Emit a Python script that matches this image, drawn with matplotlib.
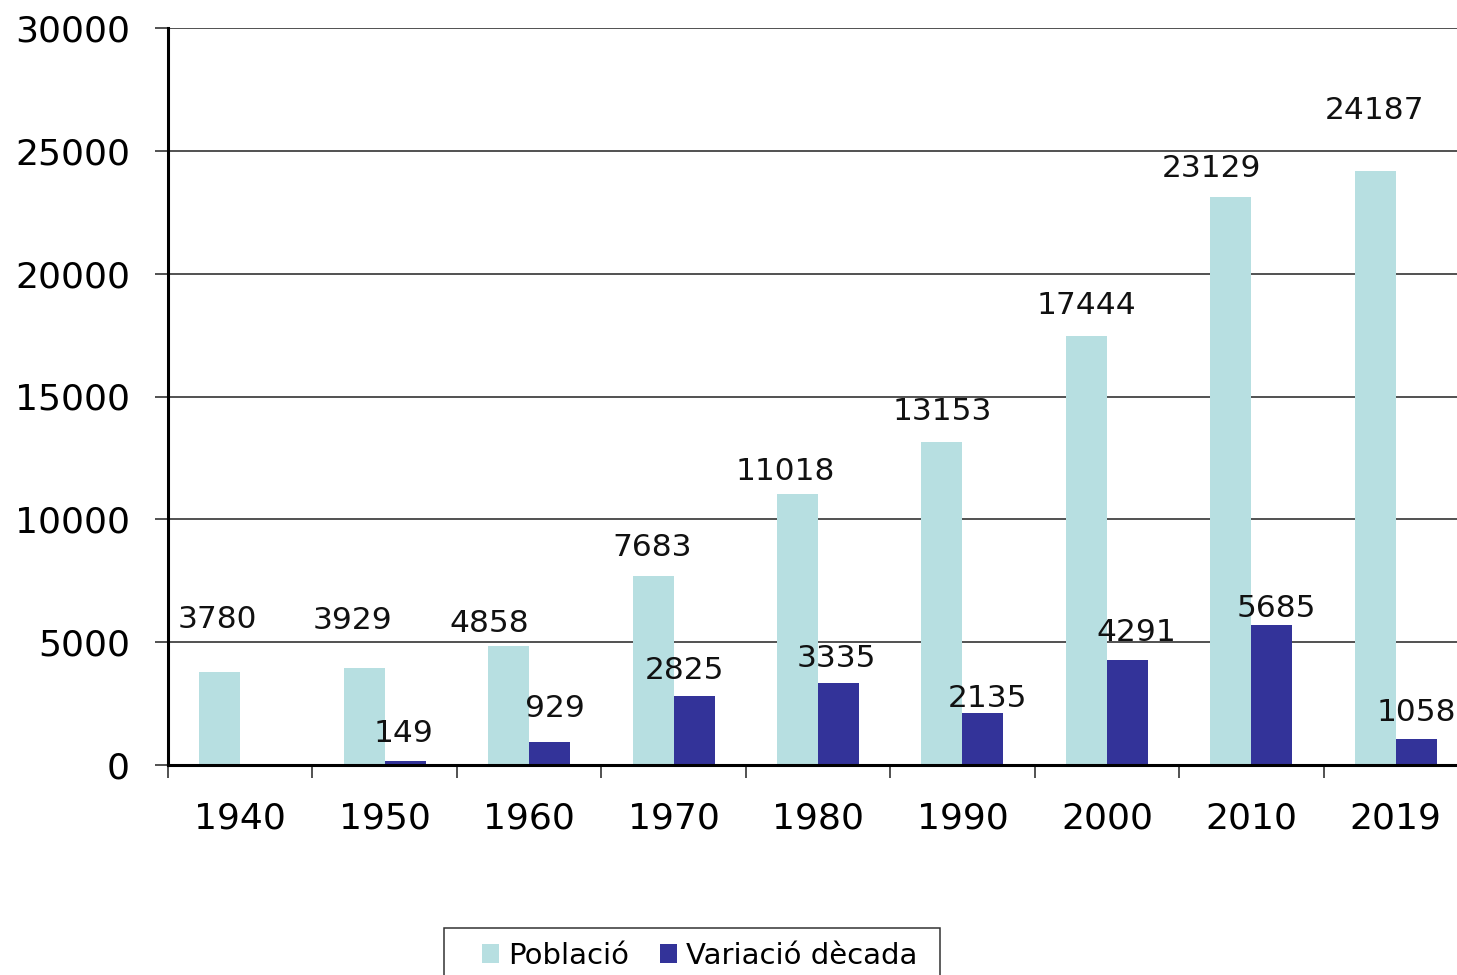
import numpy as np
import matplotlib as mpl
mpl.use("Agg")
import matplotlib.pyplot as plt
from matplotlib.patches import Rectangle

# --- data ------------------------------------------------------------------
years = ["1940", "1950", "1960", "1970", "1980", "1990", "2000", "2010", "2019"]
poblacio = [3780, 3929, 4858, 7683, 11018, 13153, 17444, 23129, 24187]
variacio = [0, 149, 929, 2825, 3335, 2135, 4291, 5685, 1058]
show_var = [False, True, True, True, True, True, True, True, True]

# label nudges (pixels) to mimic the spreadsheet's label placement
pob_dx = [-2, -12, -19, -1, -12, 0, 0, -19, -1]
pob_dy = [53, 48, 22, 29, 23, 30, 31, 28, 60]
var_dx = [0, -2, 5, -10, -2, 5, 9, 4, 0]
var_dy = [28, 28, 34, 25, 25, 14, 27, 17, 27]

LIGHT = "#B7DFE1"
DARK = "#333399"
LINE = "#222222"

mpl.rcParams.update({"font.family": "DejaVu Sans"})
fig = plt.figure(figsize=(14.57, 9.75), dpi=100)
ax = fig.add_axes([168 / 1457, 1 - 765 / 975, 1300 / 1457, 737 / 975])

x = np.arange(len(years))
w = 0.284
ax.bar(x - w / 2, poblacio, w, color=LIGHT, label="Població", zorder=3)
ax.bar(x + w / 2, variacio, w, color=DARK, label="Variació dècada", zorder=3)

px = 1 / 100 * 72  # points per pixel
for i in range(len(years)):
    ax.annotate(str(poblacio[i]), (x[i] - w / 2, poblacio[i]),
                xytext=(pob_dx[i] * px, pob_dy[i] * px), textcoords="offset points",
                ha="center", va="center", fontsize=22.5, color="#111111")
    if show_var[i]:
        ax.annotate(str(variacio[i]), (x[i] + w / 2, variacio[i]),
                    xytext=(var_dx[i] * px, var_dy[i] * px), textcoords="offset points",
                    ha="center", va="center", fontsize=22.5, color="#111111")

ax.set_xlim(-0.5, len(years) - 0.5)
ax.set_ylim(0, 30000)
ax.set_yticks(np.arange(0, 30001, 5000))
ax.set_xticks(x)
ax.set_xticklabels(years)
ax.set_xticks(np.arange(-0.5, len(years) - 0.4, 1), minor=True)

ax.tick_params(axis="y", labelsize=26, length=9.4, width=1.1, pad=18, color=LINE)
ax.tick_params(axis="x", which="major", labelsize=26, length=0, pad=26)
ax.tick_params(axis="x", which="minor", length=9, width=1.1, color=LINE)

ax.yaxis.grid(True, color=LINE, linewidth=1.1, zorder=0)
ax.set_axisbelow(True)
for s in ("top", "right"):
    ax.spines[s].set_visible(False)
for s in ("left", "bottom"):
    ax.spines[s].set_linewidth(2.2)
    ax.spines[s].set_zorder(4)
ax.spines["left"].set_bounds(0, 30000)

# legend box (bottom edge runs off the figure as in the original)
fig.add_artist(Rectangle((444 / 1457, -0.02), 496 / 1457, 0.02 + 47 / 975,
                         transform=fig.transFigure, fill=False,
                         edgecolor="#333333", linewidth=1.1))
fig.legend(loc="center left", bbox_to_anchor=(482 / 1457, 1 - 956 / 975),
           ncol=2, fontsize=21, frameon=False,
           handlelength=0.6, handleheight=0.6, handletextpad=0.3,
           columnspacing=1.05, borderpad=0, borderaxespad=0)

fig.savefig("out.png", dpi=100)
